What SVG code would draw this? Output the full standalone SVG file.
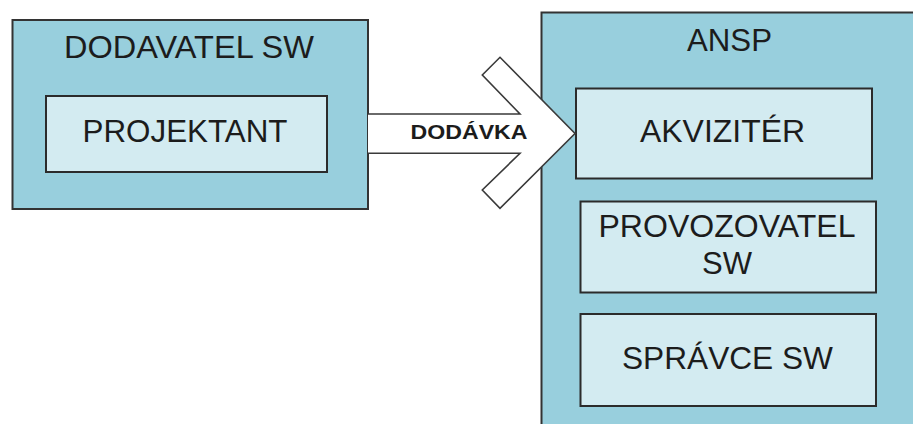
<svg xmlns="http://www.w3.org/2000/svg" width="913" height="424" viewBox="0 0 913 424">
  <style>
    .outer { fill: #98CFDD; stroke: #333333; stroke-width: 2; }
    .inner { fill: #D3EBF1; stroke: #2b2b2b; stroke-width: 2; }
    .lbl { font-family: "Liberation Sans", Arial, sans-serif; font-size: 31px; fill: #1c1c1c; text-anchor: middle; }
    .arrow { fill: #ffffff; stroke: #3a3a3a; stroke-width: 1.6; stroke-linejoin: miter; }
    .alab { font-family: "Liberation Sans", Arial, sans-serif; font-size: 21px; font-weight: bold; fill: #1c1c1c; }
  </style>

  <rect width="913" height="424" fill="#ffffff"/>

  <!-- supplier -->
  <g id="dodavatel">
    <rect class="outer" x="12.5" y="20" width="355.5" height="189"/>
    <text class="lbl" x="189" y="58" textLength="250" lengthAdjust="spacingAndGlyphs">DODAVATEL SW</text>
  </g>
  <g id="projektant">
    <rect class="inner" x="46" y="96" width="281" height="76"/>
    <text class="lbl" x="185" y="142" textLength="205" lengthAdjust="spacingAndGlyphs">PROJEKTANT</text>
  </g>

  <!-- air navigation service provider -->
  <g id="ansp">
    <rect class="outer" x="541.5" y="12.5" width="390" height="430"/>
    <text class="lbl" x="729.5" y="51" textLength="85" lengthAdjust="spacingAndGlyphs">ANSP</text>
  </g>
  <g id="akviziter">
    <rect class="inner" x="576" y="88.5" width="296" height="90"/>
    <text class="lbl" x="722.5" y="142" textLength="165" lengthAdjust="spacingAndGlyphs">AKVIZITÉR</text>
  </g>
  <g id="provozovatel">
    <rect class="inner" x="580.5" y="201.5" width="295.5" height="91"/>
    <text class="lbl" x="727" y="237" textLength="257" lengthAdjust="spacingAndGlyphs">PROVOZOVATEL</text>
    <text class="lbl" x="727" y="274" textLength="50" lengthAdjust="spacingAndGlyphs">SW</text>
  </g>
  <g id="spravce">
    <rect class="inner" x="580.5" y="314" width="295.5" height="92"/>
    <text class="lbl" x="727.5" y="368.5" textLength="211" lengthAdjust="spacingAndGlyphs">SPRÁVCE SW</text>
  </g>

  <!-- delivery connector -->
  <g id="connectors">
    <path class="arrow" d="M368 114 L520 114 L482.3 75 L500 57.3 L575 133.5 L500 208.3 L482.3 190 L520 153.3 L368 153.3"/>
    <text class="alab" x="410.5" y="138.5" textLength="117" lengthAdjust="spacingAndGlyphs">DODÁVKA</text>
  </g>
</svg>
